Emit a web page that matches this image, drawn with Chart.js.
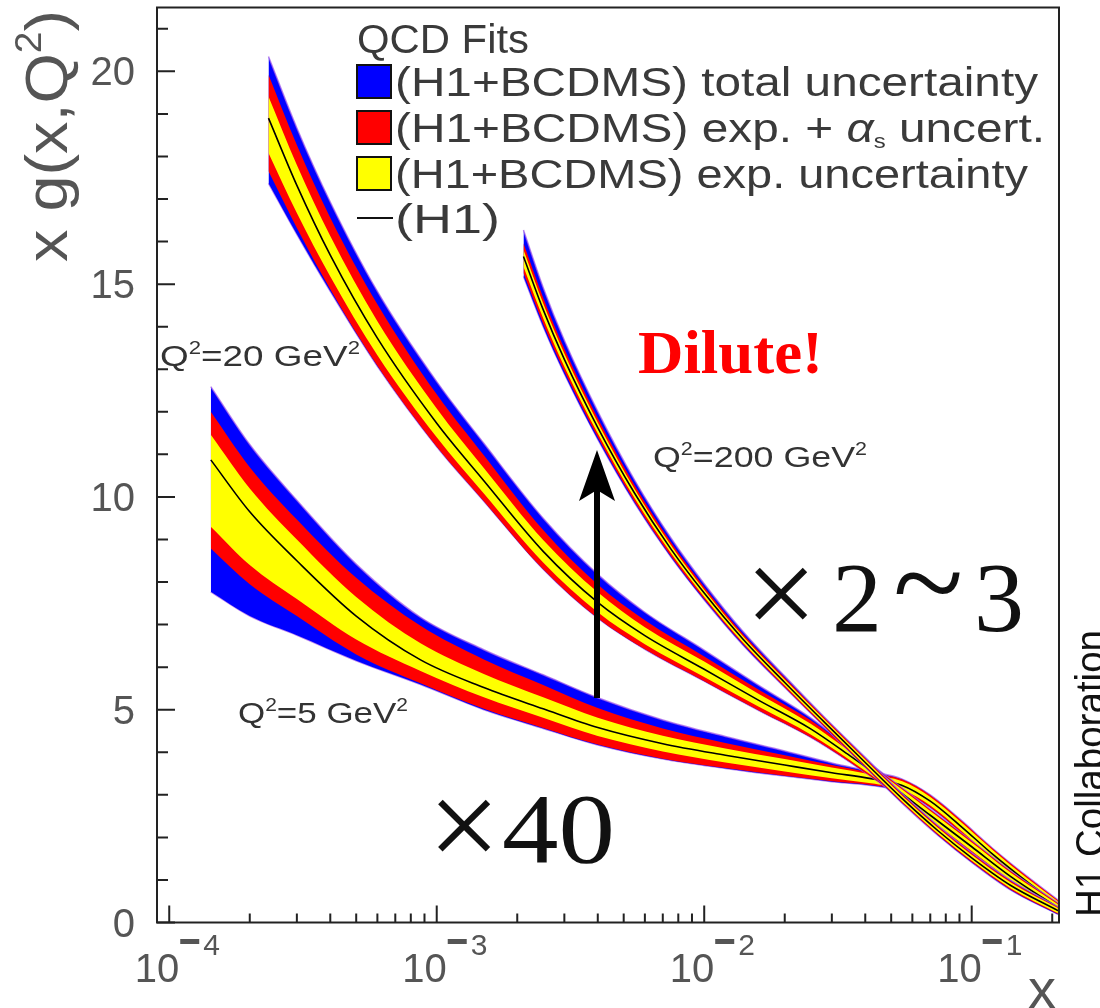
<!DOCTYPE html>
<html>
<head>
<meta charset="utf-8">
<script src="https://cdn.jsdelivr.net/npm/chart.js@4.4.1/dist/chart.umd.min.js"></script>
<style>
  body { margin: 0; background: #fff; }
  canvas { display: block; }
</style>
</head>
<body>
<canvas id="gluonChart" width="1100" height="1008"></canvas>
<script>
// Q2 = 5 GeV2
const x5 = [1.43e-4, 2e-4, 3e-4, 5e-4, 8.7e-4, 1.5e-3, 2.5e-3, 4e-3, 7e-3, 1.2e-2, 2e-2, 3e-2, 4.2e-2, 5.5e-2, 7e-2, 9e-2, 0.12, 0.16, 0.21];
const c5 = [10.87, 9.65, 8.5, 7.2, 6.17, 5.52, 5.02, 4.58, 4.2, 3.93, 3.7, 3.52, 3.38, 3.22, 2.85, 2.29, 1.6, 0.97, 0.42];
const expUp5 = [0.59, 0.55, 0.5, 0.45, 0.39, 0.32, 0.27, 0.23, 0.19, 0.16, 0.14, 0.12, 0.1, 0.1, 0.1, 0.1, 0.1, 0.09, 0.08];
const expDn5 = [1.57, 1.25, 0.9, 0.55, 0.26, 0.23, 0.21, 0.2, 0.18, 0.17, 0.15, 0.13, 0.11, 0.1, 0.1, 0.1, 0.1, 0.09, 0.08];
const asUp5 = [1.13, 1.05, 0.97, 0.9, 0.8, 0.66, 0.56, 0.46, 0.36, 0.29, 0.23, 0.18, 0.14, 0.14, 0.14, 0.14, 0.13, 0.12, 0.1];
const asDn5 = [2.08, 1.7, 1.3, 0.9, 0.55, 0.5, 0.45, 0.4, 0.35, 0.3, 0.25, 0.2, 0.15, 0.14, 0.14, 0.14, 0.13, 0.12, 0.1];
const totUp5 = [1.72, 1.58, 1.42, 1.22, 1.0, 0.89, 0.8, 0.7, 0.56, 0.44, 0.33, 0.23, 0.17, 0.15, 0.15, 0.15, 0.14, 0.13, 0.11];
const totDn5 = [3.1, 2.45, 1.75, 1.05, 0.58, 0.52, 0.46, 0.41, 0.36, 0.31, 0.26, 0.21, 0.16, 0.15, 0.15, 0.15, 0.14, 0.13, 0.11];

// Q2 = 20 GeV2
const x20 = [2.35e-4, 3e-4, 4e-4, 6e-4, 1e-3, 1.5e-3, 2.5e-3, 4e-3, 6e-3, 1e-2, 1.6e-2, 2.5e-2, 3.5e-2, 5e-2, 7e-2, 0.1, 0.14, 0.21];
const c20 = [18.9, 17.32, 15.68, 13.73, 11.73, 10.38, 8.72, 7.52, 6.74, 5.95, 5.22, 4.55, 3.92, 3.22, 2.52, 1.78, 1.08, 0.35];
const expUp20 = [0.51, 0.48, 0.45, 0.4, 0.35, 0.3, 0.27, 0.24, 0.2, 0.18, 0.15, 0.12, 0.1, 0.1, 0.1, 0.1, 0.09, 0.08];
const expDn20 = [0.82, 0.65, 0.5, 0.4, 0.33, 0.3, 0.26, 0.23, 0.2, 0.18, 0.15, 0.13, 0.1, 0.1, 0.1, 0.1, 0.09, 0.08];
const asUp20 = [1.02, 0.95, 0.88, 0.8, 0.68, 0.6, 0.5, 0.42, 0.36, 0.3, 0.25, 0.2, 0.15, 0.13, 0.13, 0.13, 0.12, 0.1];
const asDn20 = [1.25, 1.0, 0.8, 0.65, 0.55, 0.48, 0.42, 0.37, 0.32, 0.28, 0.24, 0.2, 0.15, 0.13, 0.13, 0.13, 0.12, 0.1];
const totUp20 = [1.45, 1.35, 1.25, 1.1, 0.98, 0.88, 0.78, 0.66, 0.55, 0.45, 0.35, 0.26, 0.18, 0.14, 0.14, 0.14, 0.13, 0.11];
const totDn20 = [1.53, 1.15, 0.85, 0.66, 0.55, 0.48, 0.42, 0.37, 0.32, 0.28, 0.24, 0.2, 0.15, 0.13, 0.14, 0.14, 0.13, 0.11];

// Q2 = 200 GeV2
const x200 = [2.11e-3, 2.5e-3, 3e-3, 4e-3, 5.5e-3, 7.5e-3, 1e-2, 1.4e-2, 2e-2, 2.8e-2, 4e-2, 5.5e-2, 7.5e-2, 0.1, 0.14, 0.21];
const c200 = [15.65, 14.4, 13.23, 11.63, 10.08, 8.78, 7.74, 6.65, 5.64, 4.72, 3.76, 2.91, 2.15, 1.52, 0.87, 0.28];
const expUp200 = [0.16, 0.15, 0.14, 0.12, 0.1, 0.09, 0.08, 0.07, 0.07, 0.07, 0.07, 0.07, 0.07, 0.07, 0.07, 0.06];
const expDn200 = [0.24, 0.2, 0.17, 0.14, 0.12, 0.1, 0.09, 0.08, 0.07, 0.07, 0.07, 0.07, 0.07, 0.07, 0.07, 0.06];
const asUp200 = [0.31, 0.28, 0.25, 0.22, 0.19, 0.16, 0.14, 0.12, 0.11, 0.1, 0.1, 0.1, 0.1, 0.1, 0.1, 0.08];
const asDn200 = [0.39, 0.33, 0.28, 0.23, 0.2, 0.17, 0.14, 0.12, 0.11, 0.1, 0.1, 0.1, 0.1, 0.1, 0.1, 0.08];
const totUp200 = [0.62, 0.52, 0.45, 0.38, 0.31, 0.26, 0.22, 0.18, 0.15, 0.12, 0.12, 0.12, 0.12, 0.12, 0.12, 0.09];
const totDn200 = [0.47, 0.4, 0.34, 0.28, 0.23, 0.19, 0.16, 0.14, 0.12, 0.11, 0.11, 0.11, 0.11, 0.11, 0.11, 0.09];

// axis ticks
const xTickVals = [1e-4, 1e-3, 1e-2, 1e-1];
const xTickExps = ["4", "3", "2", "1"];
const yTickVals = [0, 5, 10, 15, 20];

const SANS = '"Liberation Sans", Arial, sans-serif';
const SERIF = '"Liberation Serif", "Times New Roman", serif';
const fringe = "rgba(165, 95, 235, 0.75)";
const none = "rgba(0,0,0,0)";

function pts(xs, c, d, s) {
  return xs.map((x, i) => ({ x: x, y: c[i] + s * d[i] }));
}

const datasets = [];
function addCurve(xs, c, eu, ed, au, ad, tu, td, base) {
  const i0 = datasets.length;
  datasets.push({ data: pts(xs, c, tu, 1), backgroundColor: "#0000ff", fill: i0 + 1, borderColor: fringe, borderWidth: 1.5, order: base + 3 });
  datasets.push({ data: pts(xs, c, td, -1), fill: false, borderColor: fringe, borderWidth: 1.5, order: base + 3 });
  datasets.push({ data: pts(xs, c, au, 1), backgroundColor: "#ff0000", fill: i0 + 3, borderColor: none, borderWidth: 0, order: base + 2 });
  datasets.push({ data: pts(xs, c, ad, -1), fill: false, borderColor: none, borderWidth: 0, order: base + 2 });
  datasets.push({ data: pts(xs, c, eu, 1), backgroundColor: "#ffff00", fill: i0 + 5, borderColor: none, borderWidth: 0, order: base + 1 });
  datasets.push({ data: pts(xs, c, ed, -1), fill: false, borderColor: none, borderWidth: 0, order: base + 1 });
  datasets.push({ data: pts(xs, c, c.map(() => 0), 1), fill: false, borderColor: "#000", borderWidth: 1.6, order: base });
}
addCurve(x5, c5, expUp5, expDn5, asUp5, asDn5, totUp5, totDn5, 20);
addCurve(x20, c20, expUp20, expDn20, asUp20, asDn20, totUp20, totDn20, 10);
addCurve(x200, c200, expUp200, expDn200, asUp200, asDn200, totUp200, totDn200, 0);

// text made of pieces (sub/superscripts), squeezed to a given width
function rich(ctx, parts, x, y, width) {
  let total = 0;
  for (const p of parts) {
    ctx.font = p.f;
    p.w = ctx.measureText(p.t).width;
    total += p.w;
  }
  const k = width ? width / total : 1;
  ctx.save();
  ctx.translate(x, y);
  ctx.scale(k, 1);
  let cx = 0;
  for (const p of parts) {
    ctx.font = p.f;
    ctx.fillText(p.t, cx, p.dy || 0);
    cx += p.w;
  }
  ctx.restore();
}

const decor = {
  id: "decor",
  afterDraw(chart) {
    const ctx = chart.ctx;
    const a = chart.chartArea;
    const xs = chart.scales.x;
    const ys = chart.scales.y;
    ctx.save();

    // frame and inside ticks
    ctx.strokeStyle = "#222";
    ctx.lineWidth = 2;
    ctx.strokeRect(a.left, a.top, a.right - a.left, a.bottom - a.top);
    ctx.beginPath();
    for (let v = 0; v <= 21; v++) {
      const py = ys.getPixelForValue(v);
      ctx.moveTo(a.left, py);
      ctx.lineTo(a.left + (v % 5 === 0 ? 18 : 11), py);
    }
    for (const dec of xTickVals) {
      for (let m = 1; m <= 9; m++) {
        const v = dec * m;
        if (v <= xs.min || v >= xs.max) continue;
        const px = xs.getPixelForValue(v);
        ctx.moveTo(px, a.bottom);
        ctx.lineTo(px, a.bottom - (m === 1 ? 17 : 9));
      }
    }
    ctx.stroke();

    // tick labels
    ctx.fillStyle = "#555";
    ctx.textAlign = "right";
    ctx.font = "40px " + SANS;
    yTickVals.forEach(v => {
      ctx.fillText(String(v), 135, ys.getPixelForValue(v) + 14);
    });
    xTickVals.forEach((v, i) => {
      const px = xs.getPixelForValue(v);
      ctx.textAlign = "right";
      ctx.font = "40px " + SANS;
      ctx.fillText("10", px + 10, 982);
      ctx.fillRect(px + 11, 939, 19, 5);
      ctx.textAlign = "left";
      ctx.font = "30px " + SANS;
      ctx.fillText(xTickExps[i], px + 34, 955);
    });

    // axis titles
    ctx.textAlign = "left";
    ctx.font = "56px " + SANS;
    ctx.fillText("x", 1028, 1008);
    ctx.save();
    ctx.translate(67, 262);
    ctx.rotate(-Math.PI / 2);
    rich(ctx, [
      { t: "x g(x,Q", f: "60px " + SANS },
      { t: "2", f: "36px " + SANS, dy: -26 },
      { t: ")", f: "60px " + SANS }
    ], 0, 0, 252);
    ctx.restore();

    // legend
    ctx.fillStyle = "#3a3a3a";
    const lf = "40px " + SANS;
    rich(ctx, [{ t: "QCD Fits", f: lf }], 357, 53, 172);
    const boxes = [["#0000ff", 65], ["#ff0000", 111], ["#ffff00", 157]];
    boxes.forEach(b => {
      ctx.fillStyle = b[0];
      ctx.fillRect(357, b[1], 34, 33);
      ctx.strokeStyle = "#111";
      ctx.lineWidth = 2;
      ctx.strokeRect(357, b[1], 34, 33);
    });
    ctx.beginPath();
    ctx.moveTo(357, 218);
    ctx.lineTo(393, 218);
    ctx.stroke();
    ctx.fillStyle = "#3a3a3a";
    rich(ctx, [{ t: "(H1+BCDMS) total uncertainty", f: lf }], 395, 96, 643);
    rich(ctx, [
      { t: "(H1+BCDMS) exp. + ", f: lf },
      { t: "α", f: "italic 40px " + SANS },
      { t: "s", f: "20px " + SANS, dy: 6 },
      { t: " uncert.", f: lf }
    ], 395, 142, 650);
    rich(ctx, [{ t: "(H1+BCDMS) exp. uncertainty", f: lf }], 395, 188, 633);
    rich(ctx, [{ t: "(H1)", f: lf }], 395, 233, 105);

    // curve labels
    ctx.fillStyle = "#333";
    const qf = "30px " + SANS;
    const sf = "18px " + SANS;
    rich(ctx, [{ t: "Q", f: qf }, { t: "2", f: sf, dy: -12 }, { t: "=20 GeV", f: qf }, { t: "2", f: sf, dy: -12 }], 160, 366, 200);
    rich(ctx, [{ t: "Q", f: qf }, { t: "2", f: sf, dy: -12 }, { t: "=5 GeV", f: qf }, { t: "2", f: sf, dy: -12 }], 238, 723, 170);
    rich(ctx, [{ t: "Q", f: qf }, { t: "2", f: sf, dy: -12 }, { t: "=200 GeV", f: qf }, { t: "2", f: sf, dy: -12 }], 653, 467, 214);

    // annotations
    ctx.fillStyle = "#ff0000";
    rich(ctx, [{ t: "Dilute!", f: "bold 62px " + SERIF }], 638, 373, 185);
    ctx.fillStyle = "#111";
    ctx.font = "128px " + SERIF;
    ctx.fillText("×", 428, 868);
    ctx.fillText("×", 745, 636);
    rich(ctx, [{ t: "40", f: "100px " + SERIF }], 502, 862, 113);
    ctx.font = "100px " + SERIF;
    ctx.fillText("2", 832, 631);
    ctx.font = "130px " + SERIF;
    ctx.fillText("~", 893, 626);
    ctx.font = "100px " + SERIF;
    ctx.fillText("3", 974, 631);

    // arrow
    ctx.fillStyle = "#000";
    ctx.fillRect(594, 488, 6, 210);
    ctx.beginPath();
    ctx.moveTo(597, 450);
    ctx.lineTo(615, 501);
    ctx.lineTo(597, 490);
    ctx.lineTo(579, 501);
    ctx.closePath();
    ctx.fill();

    // collaboration tag, partly cut by the page edge
    ctx.fillStyle = "#111";
    ctx.save();
    ctx.translate(1104, 917);
    ctx.rotate(-Math.PI / 2);
    rich(ctx, [{ t: "H1 Collaboration", f: "40px " + SANS }], 0, 0, 287);
    ctx.restore();

    ctx.restore();
  }
};

new Chart(document.getElementById("gluonChart"), {
  type: "line",
  data: { datasets: datasets },
  options: {
    responsive: false,
    animation: false,
    layout: { padding: { left: 157, top: 7.5, right: 41, bottom: 85.5 } },
    elements: {
      point: { radius: 0 },
      line: { tension: 0.4, cubicInterpolationMode: "monotone" }
    },
    scales: {
      x: { type: "logarithmic", min: 9e-5, max: 0.212, bounds: "data", display: false },
      y: { type: "linear", min: 0, max: 21.5, display: false }
    },
    plugins: {
      legend: { display: false },
      tooltip: { enabled: false }
    }
  },
  plugins: [decor]
});
</script>
</body>
</html>
